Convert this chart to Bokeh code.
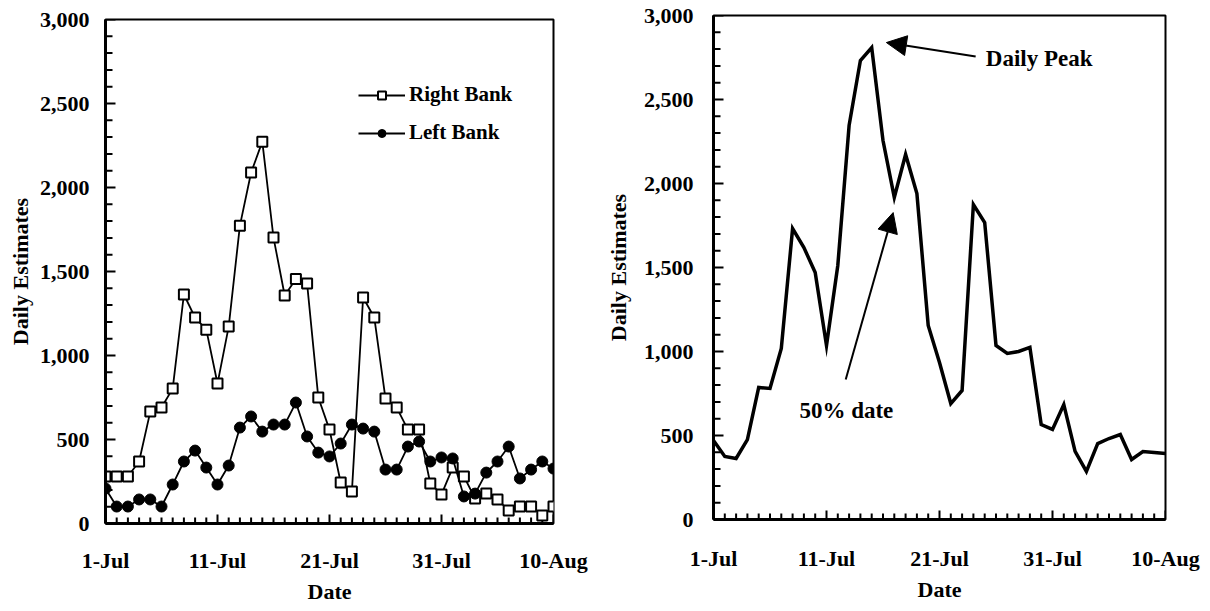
from bokeh.plotting import figure
from bokeh.layouts import row, column
from bokeh.models import (Range1d, FixedTicker, NumeralTickFormatter, Legend, LegendItem,
                          Label, Arrow, NormalHead)
from bokeh.embed import file_html
from bokeh.resources import INLINE

# ---------------- data ----------------
dates = ["1-Jul", "2-Jul", "3-Jul", "4-Jul", "5-Jul", "6-Jul", "7-Jul", "8-Jul", "9-Jul", "10-Jul",
         "11-Jul", "12-Jul", "13-Jul", "14-Jul", "15-Jul", "16-Jul", "17-Jul", "18-Jul", "19-Jul", "20-Jul",
         "21-Jul", "22-Jul", "23-Jul", "24-Jul", "25-Jul", "26-Jul", "27-Jul", "28-Jul", "29-Jul", "30-Jul",
         "31-Jul", "1-Aug", "2-Aug", "3-Aug", "4-Aug", "5-Aug", "6-Aug", "7-Aug", "8-Aug", "9-Aug", "10-Aug"]
day = list(range(len(dates)))

right_bank = [280, 280, 280, 369, 666, 690, 803, 1363, 1226, 1154, 833, 1172, 1773, 2089, 2273, 1702,
              1357, 1455, 1428, 750, 559, 244, 190, 1345, 1226, 744, 690, 559, 559, 238, 173, 333,
              280, 149, 178, 143, 77, 101, 101, 48, 101]
left_bank = [208, 101, 101, 143, 143, 101, 232, 369, 434, 333, 232, 345, 571, 637, 547, 589, 589, 720,
             518, 422, 399, 476, 589, 565, 547, 321, 321, 458, 488, 369, 393, 387, 161, 178, 303, 369,
             458, 268, 321, 369, 327]
daily_total = [470, 375, 363, 476, 786, 780, 1018, 1732, 1619, 1470, 1036, 1512, 2345, 2732, 2809, 2256,
               1917, 2173, 1940, 1155, 934, 690, 768, 1875, 1768, 1036, 988, 1000, 1024, 565, 536, 684,
               405, 286, 452, 482, 506, 357, 405, 399, 393]

x_tick_days = [0, 10, 20, 30, 40]
x_tick_labels = ["1-Jul", "11-Jul", "21-Jul", "31-Jul", "10-Aug"]
y_ticks = [0, 500, 1000, 1500, 2000, 2500, 3000]
y_minor = list(range(0, 3001, 100))

FONT = "Liberation Serif"
FRAME_H = 504


def style(p, frame_w, xt_standoff, yt_standoff, xl_standoff, yl_standoff):
    p.x_range = Range1d(0, 40)
    p.y_range = Range1d(0, 3000)
    p.xgrid.visible = False
    p.ygrid.visible = False
    p.outline_line_color = "black"
    p.outline_line_width = 2
    p.xaxis.ticker = FixedTicker(ticks=x_tick_days)
    p.xaxis.major_label_overrides = {d: l for d, l in zip(x_tick_days, x_tick_labels)}
    p.yaxis.ticker = FixedTicker(ticks=y_ticks)
    p.yaxis.formatter = NumeralTickFormatter(format="0,0")
    for ax in (p.xaxis[0], p.yaxis[0]):
        ax.axis_line_width = 3
        ax.axis_line_color = "black"
        ax.major_tick_out = 0
        ax.minor_tick_out = 0
        ax.major_tick_in = 0
        ax.minor_tick_in = 0
        ax.major_label_text_font = FONT
        ax.major_label_text_font_style = "bold"
        ax.major_label_text_font_size = "22px"
        ax.major_label_text_color = "black"
        ax.axis_label_text_font = FONT
        ax.axis_label_text_font_style = "bold"
        ax.axis_label_text_font_size = "22px"
        ax.axis_label_text_color = "black"
    p.xaxis.axis_label = "Date"
    p.yaxis.axis_label = "Daily Estimates"
    p.xaxis.major_label_standoff = xt_standoff
    p.yaxis.major_label_standoff = yt_standoff
    p.xaxis.axis_label_standoff = xl_standoff
    p.yaxis.axis_label_standoff = yl_standoff

    # inside tick marks as thin bars (pixel lengths converted to data units)
    ypx = 3000 / FRAME_H
    xpx = 40 / frame_w
    xlen = [9 if d in x_tick_days else 6 for d in day]
    ylen = [10 if v in y_ticks else 7 for v in y_minor]
    p.vbar(x=day, width=2 * xpx, bottom=0, top=[h * ypx for h in xlen],
           fill_color="black", line_color=None)
    p.hbar(y=y_minor, height=2 * ypx, left=0, right=[w * xpx for w in ylen],
           fill_color="black", line_color=None)


# ---------------- left chart ----------------
p1 = figure(width=600, height=611, output_backend="svg", toolbar_location=None,
            min_border_left=105, min_border_right=47, min_border_top=19, min_border_bottom=88)
style(p1, 448, xt_standoff=24, yt_standoff=16, xl_standoff=3, yl_standoff=4)

rl = p1.line(day, right_bank, line_color="black", line_width=1.8)
rs = p1.scatter(day, right_bank, marker="square", size=10, fill_color="white",
                line_color="black", line_width=2)
ll = p1.line(day, left_bank, line_color="black", line_width=1.8)
ls = p1.scatter(day, left_bank, marker="circle", size=11, fill_color="black", line_color="black")

legend = Legend(items=[LegendItem(label="Right Bank", renderers=[rl, rs]),
                       LegendItem(label="Left Bank", renderers=[ll, ls])],
                location=(253, 378), border_line_color=None, background_fill_alpha=0,
                padding=0, margin=0, spacing=13, glyph_width=47, glyph_height=20,
                label_height=20, label_standoff=4,
                label_text_font=FONT, label_text_font_style="bold",
                label_text_font_size="21px", label_text_color="black")
p1.add_layout(legend)

# ---------------- right chart ----------------
p2 = figure(width=602, height=611, output_backend="svg", toolbar_location=None,
            min_border_left=113, min_border_right=37, min_border_top=15, min_border_bottom=92)
style(p2, 452, xt_standoff=26, yt_standoff=20, xl_standoff=3, yl_standoff=10)

p2.line(day, daily_total, line_color="black", line_width=3.5, line_join="miter")

p2.add_layout(Arrow(end=NormalHead(size=20, fill_color="black", line_color="black"),
                    x_start=23.2, y_start=2756, x_end=15.3, y_end=2839,
                    line_color="black", line_width=2))
p2.add_layout(Label(x=24.1, y=2744, text="Daily Peak", text_baseline="middle",
                    text_font=FONT, text_font_style="bold", text_font_size="23px",
                    text_color="black"))
p2.add_layout(Arrow(end=NormalHead(size=20, fill_color="black", line_color="black"),
                    x_start=11.7, y_start=833, x_end=15.9, y_end=1827,
                    line_color="black", line_width=2))
p2.add_layout(Label(x=7.6, y=649, text="50% date", text_baseline="middle",
                    text_font=FONT, text_font_style="bold", text_font_size="23px",
                    text_color="black"))

layout = row(column(p1), column(p2))
open("out.html", "w").write(file_html(layout, INLINE))
